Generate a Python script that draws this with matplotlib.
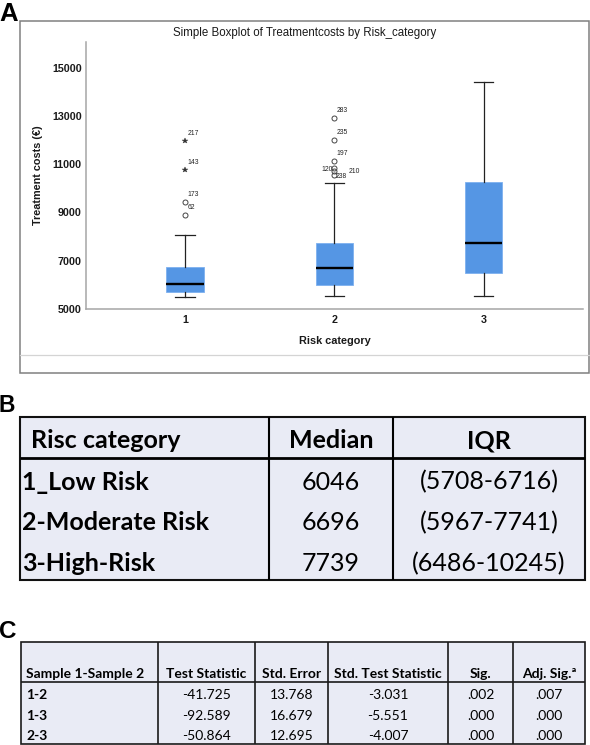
import matplotlib
matplotlib.use('Agg')
import matplotlib.pyplot as plt
from matplotlib.patches import Rectangle

# ---------------- data ----------------
categories = ['1', '2', '3']
q1 = [5708, 5967, 6486]
medians = [6046, 6696, 7739]
q3 = [6716, 7741, 10245]
whisker_low = [5500, 5530, 5510]
whisker_high = [8070, 10215, 14410]
outlier_values = [[8910, 9430, 10760, 11980],
                  [10560, 10740, 10840, 11140, 12020, 12910],
                  []]
outlier_ids = [['62', '173', '143', '217'],
               ['238', '210', '120', '197', '235', '283'],
               []]
outlier_extreme = [[False, False, True, True],
                   [False, False, False, False, False, False],
                   []]
yticks = [5000, 7000, 9000, 11000, 13000, 15000]

table_b_header = ['Risc category', 'Median', 'IQR']
risk_labels = ['1_Low Risk', '2-Moderate Risk', '3-High-Risk']

table_c_header = ['Sample 1-Sample 2', 'Test Statistic', 'Std. Error',
                  'Std. Test Statistic', 'Sig.', 'Adj. Sig.\u00aa']
pairs = ['1-2', '1-3', '2-3']
test_stat = ['-41.725', '-92.589', '-50.864']
std_error = ['13.768', '16.679', '12.695']
std_test_stat = ['-3.031', '-5.551', '-4.007']
sig = ['.002', '.000', '.000']
adj_sig = ['.007', '.000', '.000']

# ---------------- figure ----------------
W, H = 590, 745
fig = plt.figure(figsize=(W / 100, H / 100), dpi=100)
fig.patch.set_facecolor('white')

ov = fig.add_axes([0, 0, 1, 1])
ov.set_xlim(0, W)
ov.set_ylim(H, 0)
ov.axis('off')

ARIAL = 'Liberation Sans'
CAL = 'Lato'

# ---- Panel A ----
ov.text(-1, 21, 'A', fontsize=18.5, fontweight='bold', family=ARIAL,
        ha='left', va='baseline')
ov.add_patch(Rectangle((20.3, 21.3), 568.7, 351.4, fill=False,
                       edgecolor='#808080', lw=1.1))
ov.plot([20.3, 589], [355, 355], color='#d4d4d4', lw=0.9)
ov.text(305, 33.3, 'Simple Boxplot of Treatmentcosts by Risk_category',
        fontsize=8.3, family=ARIAL, ha='center', va='center', color='#1a1a1a')

axL, axR, axT, axB = 86.3, 582.7, 42.3, 308.7
ax = fig.add_axes([axL / W, (H - axB) / H, (axR - axL) / W, (axB - axT) / H])
ax.set_facecolor('white')

positions = [1, 2, 3]
stats = []
for i in range(len(categories)):
    stats.append(dict(med=medians[i], q1=q1[i], q3=q3[i],
                      whislo=whisker_low[i], whishi=whisker_high[i], fliers=[]))
ax.bxp(stats, positions=positions, widths=0.25, capwidths=0.13,
       patch_artist=True, showfliers=False,
       boxprops=dict(facecolor='#5596e4', edgecolor='#7db0ef', lw=0.6),
       medianprops=dict(color='black', lw=1.7),
       whiskerprops=dict(color='#222222', lw=0.9),
       capprops=dict(color='#222222', lw=0.9))

label_offsets = {'120': (-2, -1, 'right'), '238': (1.7, -1.3, 'left'),
                 '210': (14, -1.3, 'left')}
for i, pos in enumerate(positions):
    for v, lab, ext in zip(outlier_values[i], outlier_ids[i], outlier_extreme[i]):
        if ext:
            ax.plot(pos, v, marker='*', ms=4.2, color='#333333', mec='#333333',
                    mew=0.3, linestyle='none')
        else:
            ax.plot(pos, v, marker='o', ms=3.6, mfc='none', mec='#444444',
                    mew=0.7, linestyle='none')
        dx, dy, ha = label_offsets.get(lab, (2.5, 7.5, 'left'))
        ax.annotate(lab, (pos, v), xytext=(dx, dy), textcoords='offset pixels',
                    fontsize=4.9, family=ARIAL, ha=ha, va='center', color='#222222')

ax.set_xlim(0.339, 3.663)
ax.set_ylim(5000, 16066)
ax.set_xticks(positions)
ax.set_xticklabels(categories)
ax.set_yticks(yticks)
ax.set_yticklabels([str(t) for t in yticks])
for lab in ax.get_xticklabels() + ax.get_yticklabels():
    lab.set_family(ARIAL)
    lab.set_fontweight('bold')
    lab.set_fontsize(7.7)
    lab.set_color('#1a1a1a')
ax.tick_params(axis='both', length=0)
ax.tick_params(axis='y', pad=3.3)
ax.tick_params(axis='x', pad=4.5)
for s in ['top', 'right']:
    ax.spines[s].set_visible(False)
for s in ['left', 'bottom']:
    ax.spines[s].set_color('#a6a6a6')
    ax.spines[s].set_linewidth(1.1)

ax.set_xlabel('Risk category', family=ARIAL, fontsize=7.8, fontweight='bold',
              color='#1a1a1a')
ax.xaxis.set_label_coords(0.5, -(341.3 - axB) / (axB - axT))
ax.xaxis.label.set_va('center')
ax.set_ylabel('Treatment costs (\u20ac)', family=ARIAL, fontsize=7.8,
              fontweight='bold', color='#1a1a1a')
ax.yaxis.set_label_coords(-(axL - 38) / (axR - axL), 0.5)
ax.yaxis.label.set_va('center')

# ---- Panel B ----
BG = '#e9ebf5'
ov.text(-1, 411.7, 'B', fontsize=16.5, fontweight='bold', family=ARIAL,
        ha='left', va='baseline')
bx = [20.3, 269, 393, 585]
by = [416.7, 458.3, 499, 540, 580.3]
ov.add_patch(Rectangle((bx[0], by[0]), bx[-1] - bx[0], by[-1] - by[0],
                       facecolor=BG, edgecolor='none'))
lwB = 1.5
for x in bx[1:-1]:
    ov.plot([x, x], [by[0], by[-1]], color='black', lw=lwB, solid_capstyle='butt')
ov.plot([bx[0], bx[-1]], [by[1], by[1]], color='black', lw=2.0, solid_capstyle='butt')
ov.add_patch(Rectangle((bx[0], by[0]), bx[-1] - bx[0], by[-1] - by[0],
                       fill=False, edgecolor='#111111', lw=lwB))
fsB = 18
ov.text(30.7, 448.5, table_b_header[0], family=CAL, fontweight='bold',
        fontsize=fsB, ha='left', va='baseline')
for j in (1, 2):
    ov.text((bx[j] + bx[j + 1]) / 2, 448.5, table_b_header[j], family=CAL,
            fontweight='bold', fontsize=fsB, ha='center', va='baseline')
baselinesB = [489.5, 530.5, 571]
for i in range(3):
    yb = baselinesB[i]
    ov.text(22.3, yb, risk_labels[i], family=CAL, fontweight='bold',
            fontsize=fsB, ha='left', va='baseline')
    ov.text((bx[1] + bx[2]) / 2, yb, str(medians[i]), family=CAL,
            fontsize=fsB, ha='center', va='baseline')
    ov.text((bx[2] + bx[3]) / 2, yb, '(%d-%d)' % (q1[i], q3[i]), family=CAL,
            fontsize=fsB, ha='center', va='baseline')

# ---- Panel C ----
ov.text(-1, 638.5, 'C', fontsize=17.5, fontweight='bold', family=ARIAL,
        ha='left', va='baseline')
cx = [20.7, 158.3, 255, 328, 448, 513, 585]
cy = [641.7, 681.7, 702.5, 723.3, 744]
ov.add_patch(Rectangle((cx[0], cy[0]), cx[-1] - cx[0], cy[-1] - cy[0],
                       facecolor=BG, edgecolor='none'))
lwC = 1.2
for x in cx[1:-1]:
    ov.plot([x, x], [cy[0], cy[-1]], color='#1a1a1a', lw=lwC, solid_capstyle='butt')
ov.plot([cx[0], cx[-1]], [cy[1], cy[1]], color='#1a1a1a', lw=lwC,
        solid_capstyle='butt')
ov.add_patch(Rectangle((cx[0], cy[0]), cx[-1] - cx[0], cy[-1] - cy[0],
                       fill=False, edgecolor='#1a1a1a', lw=lwC))
fsC = 10
ov.text(26, 677.7, table_c_header[0], family=CAL, fontweight='bold',
        fontsize=fsC, ha='left', va='baseline')
for j in range(1, len(table_c_header)):
    ov.text((cx[j] + cx[j + 1]) / 2, 677.7, table_c_header[j], family=CAL,
            fontweight='bold', fontsize=fsC, ha='center', va='baseline')
baselinesC = [699, 719.7, 740.3]
columns = [test_stat, std_error, std_test_stat, sig, adj_sig]
for i in range(3):
    yb = baselinesC[i]
    ov.text(26, yb, pairs[i], family=CAL, fontweight='bold', fontsize=fsC,
            ha='left', va='baseline')
    for j, col in enumerate(columns, start=1):
        ov.text((cx[j] + cx[j + 1]) / 2, yb, col[i], family=CAL,
                fontsize=fsC, ha='center', va='baseline')

fig.savefig('out.png', dpi=100)
